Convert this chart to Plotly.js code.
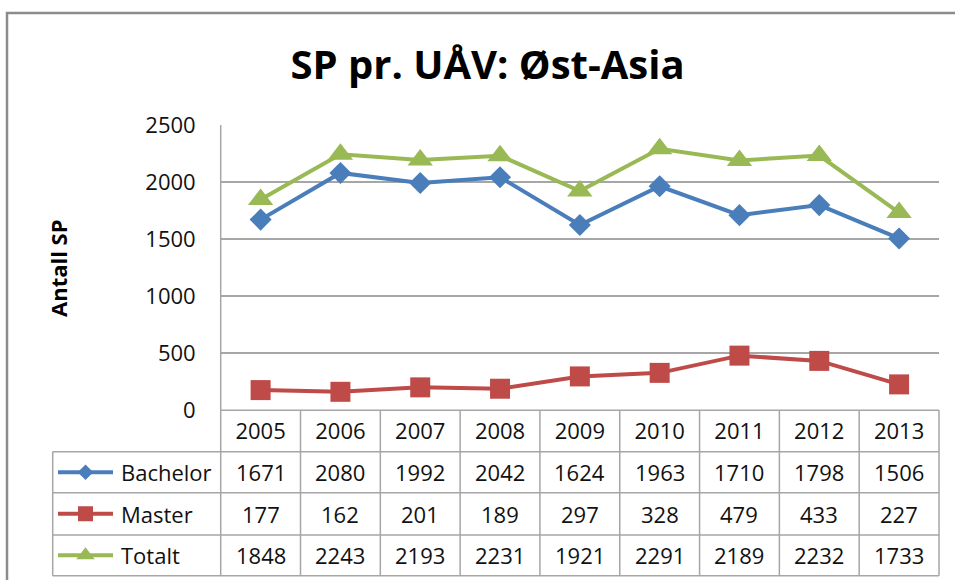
<!DOCTYPE html>
<html>
<head>
<meta charset="utf-8">
<script src="https://cdn.plot.ly/plotly-3.0.1.min.js"></script>
<style>html,body{margin:0;padding:0;background:#fff}#chart{width:955px;height:580px}</style>
</head>
<body>
<div id="chart"></div>
<script>
const years = ["2005","2006","2007","2008","2009","2010","2011","2012","2013"];
const seriesNames = ["Bachelor","Master","Totalt"];
const bachelor = [1671,2080,1992,2042,1624,1963,1710,1798,1506];
const master = [177,162,201,189,297,328,479,433,227];
const totalt = [1848,2243,2193,2231,1921,2291,2189,2232,1733];
const yTicks = [0,500,1000,1500,2000,2500];

const W = 955, H = 580;
const FONT = "Open Sans, Noto Sans, sans-serif";
const colors = ["#4A7EBB","#BE4B48","#98B954"];
const symbols = ["diamond","square","triangle-up"];
const msizes = [17,20,22];
const keySizes = [12,15,16];
const allSeries = [bachelor, master, totalt];

// geometry (pixels from top-left)
const plotL = 220.7, plotR = 939, plotT = 125, plotB = 410.3;
const rowEdges = [410.3, 451.7, 492.7, 535, 575.7];
const tableL = 52.7;
const px = x => x / W;
const py = y => (H - y) / H;

const traces = allSeries.map((vals, i) => ({
  type: "scatter", mode: "lines+markers",
  x: years, y: vals, name: seriesNames[i],
  line: {color: colors[i], width: 4},
  marker: {symbol: symbols[i], size: msizes[i], color: colors[i], opacity: 1},
  xaxis: "x", yaxis: "y", showlegend: false, cliponaxis: false
}));

// legend keys inside the table's first column
seriesNames.forEach((n, i) => {
  const yc = (rowEdges[i+1] + rowEdges[i+2]) / 2;
  traces.push({
    type: "scatter", mode: "lines",
    x: [58, 113], y: [yc, yc],
    line: {color: colors[i], width: 4},
    xaxis: "x2", yaxis: "y2", showlegend: false, hoverinfo: "skip"
  });
  traces.push({
    type: "scatter", mode: "markers",
    x: [85.5], y: [yc],
    marker: {symbol: symbols[i], size: keySizes[i], color: colors[i], opacity: 1},
    xaxis: "x2", yaxis: "y2", showlegend: false, hoverinfo: "skip"
  });
});

const gridC = "#A6A6A6";
const shapes = [];
// outer frame
shapes.push({type:"rect", xref:"paper", yref:"paper", x0:px(7), x1:1.05, y0:-0.05, y1:py(13), line:{color:"#8C8C8C", width:2.5}});
// left axis line extended to table bottom
shapes.push({type:"line", xref:"paper", yref:"paper", x0:px(plotL), x1:px(plotL), y0:py(rowEdges[4]), y1:py(plotT), line:{color:gridC, width:1.5}});
// right table border
shapes.push({type:"line", xref:"paper", yref:"paper", x0:px(plotR), x1:px(plotR), y0:py(rowEdges[4]), y1:py(rowEdges[0]), line:{color:gridC, width:1.5}});
// column separators
for (let i = 1; i < years.length; i++) {
  shapes.push({type:"line", xref:"x", yref:"paper", x0:i-0.5, x1:i-0.5, y0:py(rowEdges[4]), y1:py(rowEdges[0]), line:{color:gridC, width:1.5}});
}
// row lines
shapes.push({type:"line", xref:"paper", yref:"paper", x0:px(plotL), x1:px(plotR), y0:py(rowEdges[0]), y1:py(rowEdges[0]), line:{color:gridC, width:1.5}});
for (let r = 1; r < rowEdges.length; r++) {
  shapes.push({type:"line", xref:"paper", yref:"paper", x0:px(tableL), x1:px(plotR), y0:py(rowEdges[r]), y1:py(rowEdges[r]), line:{color:gridC, width:1.5}});
}
// left column border
shapes.push({type:"line", xref:"paper", yref:"paper", x0:px(tableL), x1:px(tableL), y0:py(rowEdges[4]), y1:py(rowEdges[1]), line:{color:gridC, width:1.5}});

const annotations = [];
allSeries.forEach((vals, s) => {
  const yc = py((rowEdges[s+1] + rowEdges[s+2]) / 2);
  vals.forEach((v, i) => {
    annotations.push({xref:"x", yref:"paper", x:i, y:yc, text:String(v), showarrow:false,
      xanchor:"center", yanchor:"middle", font:{family:FONT, size:22, color:"#111"}});
  });
  annotations.push({xref:"paper", yref:"paper", x:px(119), y:yc, text:seriesNames[s], showarrow:false,
    xanchor:"left", yanchor:"middle", font:{family:FONT, size:22, color:"#111"}});
});
// y axis title
annotations.push({xref:"paper", yref:"paper", x:px(58), y:py(268), text:"Antall SP", textangle:-90, showarrow:false,
  xanchor:"center", yanchor:"middle", font:{family:FONT, size:22, color:"#000", weight:700}});

const layout = {
  width: W, height: H,
  margin: {l:0, r:0, t:0, b:0},
  paper_bgcolor: "#fff", plot_bgcolor: "#fff",
  title: {text:"SP pr. UÅV: Øst-Asia", font:{family:FONT, size:40, color:"#000", weight:700},
    x: px(487.5), xref:"paper", xanchor:"center", y: py(65), yref:"container", yanchor:"middle"},
  xaxis: {type:"category", domain:[px(plotL), px(plotR)], range:[-0.5, 8.5], showgrid:false, zeroline:false,
    showline:false, ticks:"", tickfont:{family:FONT, size:22, color:"#111"}, ticklabelstandoff:6, fixedrange:true},
  yaxis: {domain:[py(plotB), py(plotT)], range:[0, 2500], tickvals:yTicks, ticktext:yTicks.map(String),
    showgrid:true, gridcolor:gridC, gridwidth:1.5, zeroline:false, showline:false, ticks:"",
    tickfont:{family:FONT, size:22, color:"#111"}, ticklabelstandoff:24, fixedrange:true},
  xaxis2: {domain:[px(tableL), px(plotL)], range:[tableL, plotL], visible:false, fixedrange:true},
  yaxis2: {domain:[py(rowEdges[4]), py(rowEdges[1])], range:[rowEdges[4], rowEdges[1]], visible:false, fixedrange:true},
  shapes: shapes,
  annotations: annotations,
  showlegend: false
};

Plotly.newPlot("chart", traces, layout, {staticPlot:true, displayModeBar:false});
</script>
</body>
</html>
